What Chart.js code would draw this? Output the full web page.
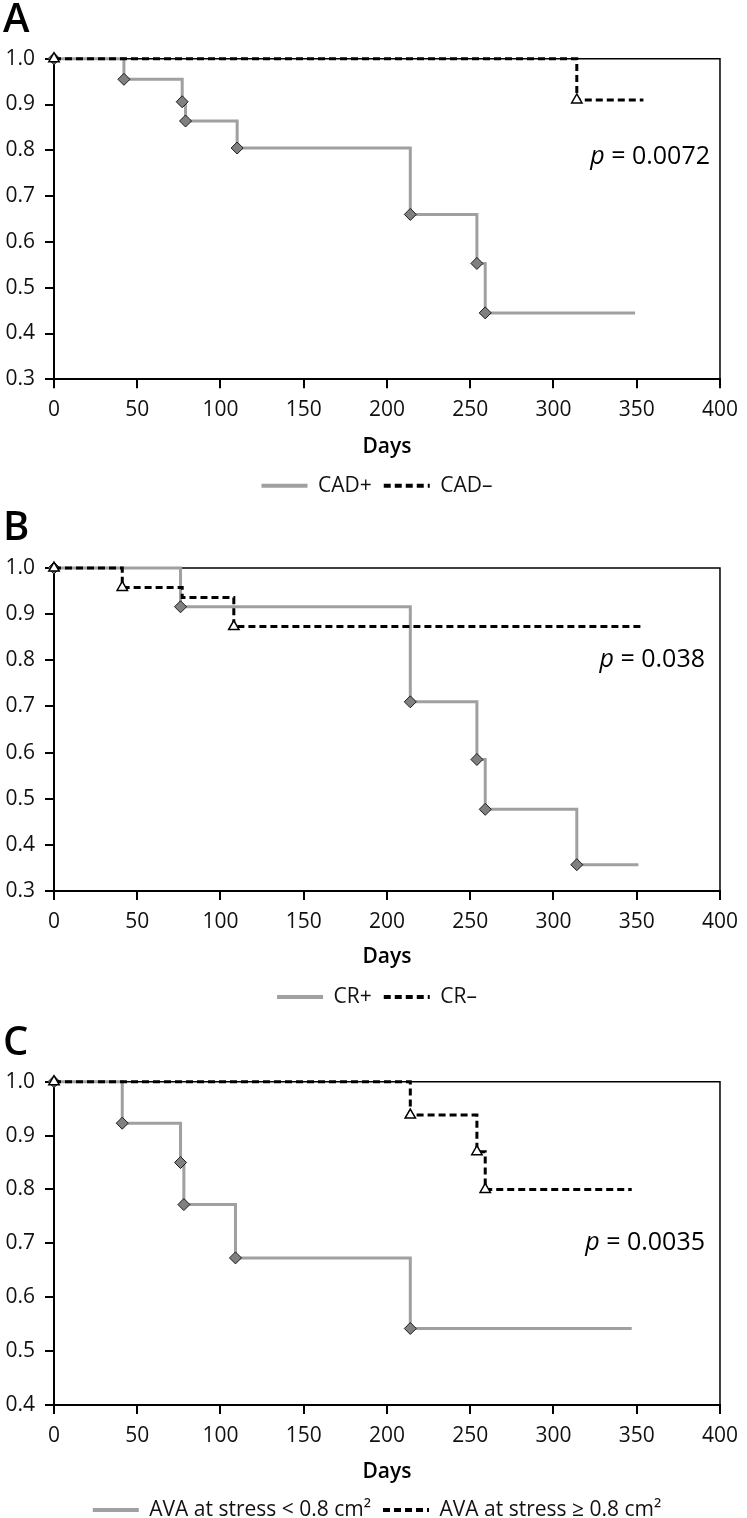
<!DOCTYPE html>
<html lang="en">
<head>
    <meta charset="UTF-8">
    <title>Survival curves by CAD, CR and AVA at stress</title>
    <script src="https://cdn.jsdelivr.net/npm/chart.js"></script>
    <style>
        html, body {
            margin: 0;
            padding: 0;
            background: #fff;
            overflow: hidden;
        }
        body {
            width: 747px;
            height: 1518px;
            position: relative;
        }
        .panel {
            position: absolute;
            left: 0;
            width: 747px;
        }
        #panelA { top: 0; }
        #panelB { top: 500px; }
        #panelC { top: 1015px; }
    </style>
</head>
<body>
    <div class="panel" id="panelA"><canvas id="chartA" width="747" height="520"></canvas></div>
    <div class="panel" id="panelB"><canvas id="chartB" width="747" height="530"></canvas></div>
    <div class="panel" id="panelC"><canvas id="chartC" width="747" height="528"></canvas></div>

    <script>
        // Panel A - CAD
        const cadPosDays = [0, 42, 77, 79, 110, 214, 254, 259, 349];
        const cadPosSurv = [1.0, 0.955, 0.906, 0.864, 0.805, 0.66, 0.553, 0.445, 0.445];
        const cadNegDays = [0, 314, 354];
        const cadNegSurv = [1.0, 0.91, 0.91];

        // Panel B - CR
        const crPosDays = [0, 76, 214, 254, 259, 314, 351];
        const crPosSurv = [1.0, 0.916, 0.71, 0.585, 0.477, 0.357, 0.357];
        const crNegDays = [0, 41, 77, 108, 354];
        const crNegSurv = [1.0, 0.958, 0.936, 0.873, 0.873];
        const crNegUnmarked = [77];

        // Panel C - AVA at stress
        const avaLowDays = [0, 41, 76, 78, 109, 214, 347];
        const avaLowSurv = [1.0, 0.923, 0.85, 0.772, 0.673, 0.542, 0.542];
        const avaHighDays = [0, 214, 254, 259, 347];
        const avaHighSurv = [1.0, 0.938, 0.87, 0.80, 0.80];

        const pValues = ['0.0072', '0.038', '0.0035'];
        const xTicks = { min: 0, max: 400, step: 50 };

        const FONT = '"Open Sans", "DejaVu Sans", sans-serif';
        const LEGEND_H = 45;

        function series(days, surv) {
            return days.map((d, i) => ({ x: d, y: surv[i] }));
        }

        // last point of a curve carries no marker, nor do listed days
        function radii(days, skip, r) {
            return days.map((d, i) => (i === days.length - 1 || skip.includes(d)) ? 0 : r);
        }

        const panelDecor = {
            id: 'panelDecor',
            afterLayout(chart, args, opts) {
                // legend in the original sits a little right of the canvas centre
                chart.legend.left += opts.legendShift;
            },
            beforeDatasetsDraw(chart) {
                const { ctx, chartArea: a } = chart;
                ctx.save();
                ctx.strokeStyle = '#000';
                ctx.lineWidth = 1.5;
                ctx.beginPath();
                ctx.moveTo(a.left, a.top);
                ctx.lineTo(a.right, a.top);
                ctx.lineTo(a.right, a.bottom);
                ctx.stroke();
                ctx.restore();
            },
            afterDraw(chart, args, opts) {
                const { ctx, scales: { x, y } } = chart;
                ctx.save();
                ctx.fillStyle = '#000';
                ctx.font = '600 40px ' + FONT;
                ctx.textBaseline = 'alphabetic';
                ctx.textAlign = 'left';
                ctx.fillText(opts.letter, 3, opts.letterBase);

                // p value, italic p, right aligned
                const px = x.getPixelForValue(opts.pX);
                const py = y.getPixelForValue(opts.pY);
                const rest = ' = ' + opts.p;
                ctx.textBaseline = 'middle';
                ctx.font = '25px ' + FONT;
                const restW = ctx.measureText(rest).width;
                ctx.fillText(rest, px - restW, py);
                ctx.font = 'italic 25px ' + FONT;
                const pW = ctx.measureText('p').width;
                ctx.fillText('p', px - restW - pW, py);
                ctx.restore();
            }
        };

        function makeChart(cfg) {
            const solid = {
                label: cfg.labels[0],
                data: series(cfg.solid[0], cfg.solid[1]),
                stepped: true,
                borderColor: '#a0a0a0',
                borderWidth: 3,
                fill: false,
                pointStyle: 'rectRot',
                pointRadius: radii(cfg.solid[0], cfg.solid[2], 6),
                pointBackgroundColor: '#808080',
                pointBorderColor: '#1a1a1a',
                pointBorderWidth: 1,
                clip: false,
                order: 1
            };
            const dashed = {
                label: cfg.labels[1],
                data: series(cfg.dashed[0], cfg.dashed[1]),
                stepped: true,
                borderColor: '#000',
                borderWidth: 3,
                borderDash: [7, 4],
                fill: false,
                pointStyle: 'triangle',
                pointRadius: radii(cfg.dashed[0], cfg.dashed[2], 6),
                pointBackgroundColor: '#fff',
                pointBorderColor: '#000',
                pointBorderWidth: 1.5,
                clip: false,
                order: 0
            };

            const canvas = document.getElementById(cfg.canvas);
            const bottomPad = canvas.height - cfg.plotBottom - cfg.axisH - LEGEND_H;

            return new Chart(canvas, {
                type: 'line',
                data: { datasets: [solid, dashed] },
                plugins: [panelDecor],
                options: {
                    responsive: false,
                    maintainAspectRatio: false,
                    animation: false,
                    events: [],
                    layout: {
                        padding: { top: cfg.plotTop, left: 0, right: 19, bottom: bottomPad }
                    },
                    scales: {
                        x: {
                            type: 'linear',
                            min: xTicks.min,
                            max: xTicks.max,
                            afterFit: (s) => { s.height = cfg.axisH; },
                            ticks: {
                                stepSize: xTicks.step,
                                padding: 9,
                                color: '#111',
                                font: { family: FONT, size: 21 }
                            },
                            grid: { drawOnChartArea: false, drawTicks: true, tickLength: 9, color: '#000', lineWidth: 2 },
                            border: { display: true, color: '#000', width: 2 },
                            title: {
                                display: true,
                                text: 'Days',
                                color: '#000',
                                font: { family: FONT, size: 21, weight: '600' },
                                padding: { top: 0, bottom: cfg.titlePad }
                            }
                        },
                        y: {
                            min: cfg.yMin,
                            max: 1.0,
                            afterFit: (s) => { s.width = 54; },
                            ticks: {
                                stepSize: 0.1,
                                padding: 10,
                                color: '#111',
                                font: { family: FONT, size: 21 },
                                callback: (v) => v.toFixed(1)
                            },
                            grid: { drawOnChartArea: false, drawTicks: true, tickLength: 9, color: '#000', lineWidth: 2 },
                            border: { display: true, color: '#000', width: 2 }
                        }
                    },
                    plugins: {
                        tooltip: { enabled: false },
                        panelDecor: {
                            letter: cfg.letter,
                            letterBase: cfg.letterBase,
                            legendShift: 26,
                            p: cfg.p,
                            pX: cfg.pX,
                            pY: cfg.pY
                        },
                        legend: {
                            position: 'bottom',
                            labels: {
                                usePointStyle: true,
                                pointStyleWidth: 46,
                                padding: 12,
                                color: '#111',
                                font: { family: FONT, size: 21 },
                                generateLabels: (chart) => chart.data.datasets.map((ds, i) => ({
                                    text: ds.label,
                                    datasetIndex: i,
                                    hidden: false,
                                    pointStyle: 'line',
                                    strokeStyle: ds.borderColor,
                                    fillStyle: ds.borderColor,
                                    lineWidth: 4,
                                    lineDash: ds.borderDash || [],
                                    fontColor: '#111'
                                }))
                            }
                        }
                    }
                }
            });
        }

        makeChart({
            canvas: 'chartA', letter: 'A', letterBase: 32,
            labels: ['CAD+', 'CAD\u2013'],
            solid: [cadPosDays, cadPosSurv, []],
            dashed: [cadNegDays, cadNegSurv, []],
            yMin: 0.3, p: pValues[0], pX: 394, pY: 0.785,
            plotTop: 58.7, plotBottom: 377.3, axisH: 84, titlePad: 3.7
        });

        makeChart({
            canvas: 'chartB', letter: 'B', letterBase: 40,
            labels: ['CR+', 'CR\u2013'],
            solid: [crPosDays, crPosSurv, []],
            dashed: [crNegDays, crNegSurv, crNegUnmarked],
            yMin: 0.3, p: pValues[1], pX: 391, pY: 0.80,
            plotTop: 68, plotBottom: 389, axisH: 83.5, titlePad: 4.9
        });

        makeChart({
            canvas: 'chartC', letter: 'C', letterBase: 40,
            labels: ['AVA at stress < 0.8 cm\u00b2', 'AVA at stress \u2265 0.8 cm\u00b2'],
            solid: [avaLowDays, avaLowSurv, []],
            dashed: [avaHighDays, avaHighSurv, []],
            yMin: 0.4, p: pValues[2], pX: 391, pY: 0.70,
            plotTop: 66.7, plotBottom: 388, axisH: 82.5, titlePad: 2.9
        });
    </script>
</body>
</html>
